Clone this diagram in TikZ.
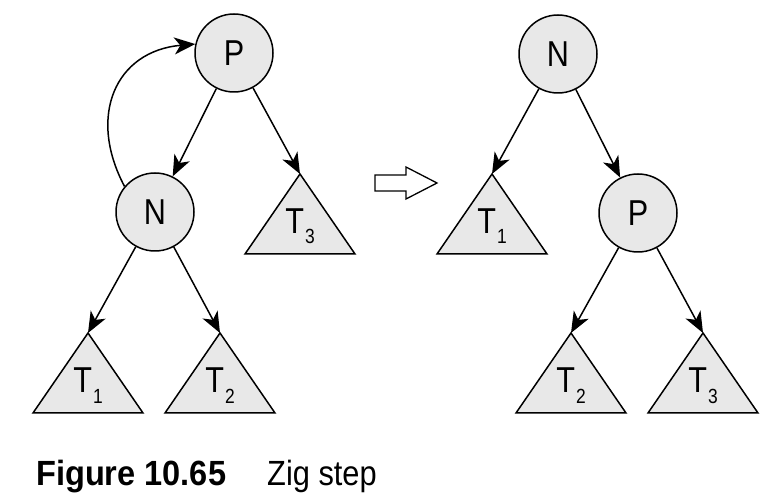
\documentclass[tikz,border=0pt]{standalone}
\usepackage{fontspec}
\setmainfont{Liberation Sans}
\newfontfamily\lblfont[FakeStretch=0.85]{Liberation Sans}
\newfontfamily\capB[FakeStretch=0.93]{Liberation Sans}
\newfontfamily\capR[FakeStretch=0.88]{Liberation Sans}
\usetikzlibrary{arrows.meta,calc}
\definecolor{nodefill}{HTML}{E8E8E8}
\newcommand{\subT}[1]{T\kern1pt\raisebox{-10pt}{\fontsize{20.5}{20.5}\selectfont #1}}
\tikzset{
  treenode/.style={circle, draw, fill=nodefill, line width=1.5pt, minimum size=78pt, inner sep=0pt, font=\lblfont\fontsize{36}{36}\selectfont},
  subtree/.style={draw, fill=nodefill, line width=1.5pt, line join=miter},
  treelbl/.style={anchor=base, inner sep=0pt, font=\lblfont\fontsize{36}{36}\selectfont},
  edge/.style={line width=1.5pt, -{Stealth[length=21pt, width=17pt, inset=6pt]}},
  hollow/.style={draw, fill=white, line width=1.3pt, line join=miter},
  caption/.style={anchor=base west, inner sep=0pt, font=\fontsize{35}{35}\selectfont}
}
\begin{document}
\begin{tikzpicture}[x=1pt,y=1pt]
\useasboundingbox (0,0) rectangle (784,498);
% ---------- left tree ----------
\node[treenode] (lP) at (234,445) {P};
\node[treenode] (lN) at (155,286) {N};
\coordinate (lT3) at (300,324);
\coordinate (lT1) at (88,165);
\coordinate (lT2) at (220,165);
\draw[subtree] (lT3) -- ++(-55,-80) -- ++(110,0) -- cycle;
\draw[subtree] (lT1) -- ++(-55,-80) -- ++(110,0) -- cycle;
\draw[subtree] (lT2) -- ++(-55,-80) -- ++(110,0) -- cycle;
\node[treelbl] (lT3l) at ($(lT3)+(0,-60)$) {\subT{3}};
\node[treelbl] (lT1l) at ($(lT1)+(0,-60)$) {\subT{1}};
\node[treelbl] (lT2l) at ($(lT2)+(0,-60)$) {\subT{2}};
\draw[edge] (lP) -- (lN);
\draw[edge] (lP) -- (lT3);
\draw[edge] (lN) -- (lT1);
\draw[edge] (lN) -- (lT2);
\draw[edge] (lN.140) .. controls +(118:80pt) and +(185:80pt) .. (lP.167);
% ---------- hollow arrow ----------
\draw[hollow] (375,323) -- (406,323) -- (406,331) -- (437,315) -- (406,299) -- (406,307) -- (375,307) -- cycle;
% ---------- right tree ----------
\node[treenode] (rN) at (558,444) {N};
\node[treenode] (rP) at (638,285) {P};
\coordinate (rT1) at (492,324);
\coordinate (rT2) at (571,165);
\coordinate (rT3) at (703,165);
\draw[subtree] (rT1) -- ++(-55,-80) -- ++(110,0) -- cycle;
\draw[subtree] (rT2) -- ++(-55,-80) -- ++(110,0) -- cycle;
\draw[subtree] (rT3) -- ++(-55,-80) -- ++(110,0) -- cycle;
\node[treelbl] (rT1l) at ($(rT1)+(0,-60)$) {\subT{1}};
\node[treelbl] (rT2l) at ($(rT2)+(0,-60)$) {\subT{2}};
\node[treelbl] (rT3l) at ($(rT3)+(0,-60)$) {\subT{3}};
\draw[edge] (rN) -- (rT1);
\draw[edge] (rN) -- (rP);
\draw[edge] (rP) -- (rT2);
\draw[edge] (rP) -- (rT3);
% ---------- caption ----------
\node[caption] (capnum) at (36,13) {\capB\bfseries Figure 10.65};
\node[caption] (captxt) at (267,13) {\capR Zig step};
\end{tikzpicture}
\end{document}
